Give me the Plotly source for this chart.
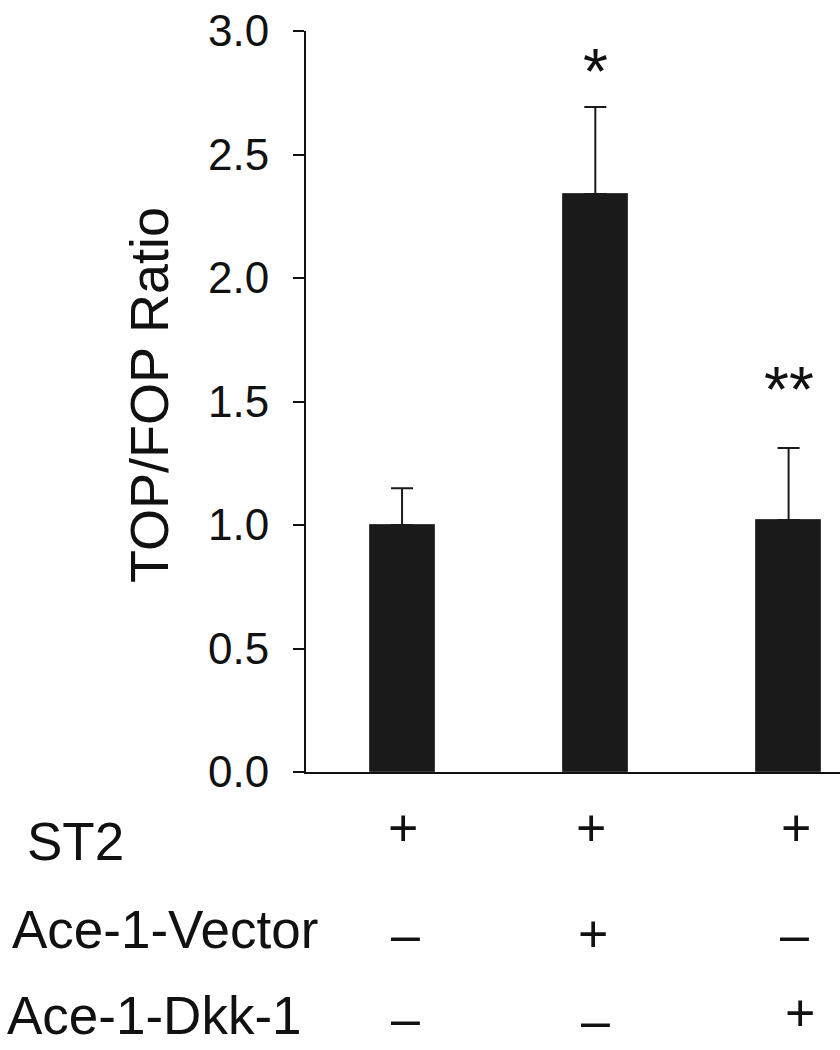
import plotly.graph_objects as go

# ---- data ----
groups = ["G1", "G2", "G3"]
ratio_mean = [1.00, 2.34, 1.02]
ratio_err = [0.149, 0.352, 0.292]
sig_labels = ["", "*", "**"]
sig_shift = [0, 43, 66]  # px above error-bar top

row_names = ["ST2", "Ace-1-Vector", "Ace-1-Dkk-1"]
st2 = ["+", "+", "+"]
ace_vector = ["–", "+", "–"]
ace_dkk = ["–", "–", "+"]

y_ticks = [0.0, 0.5, 1.0, 1.5, 2.0, 2.5, 3.0]
y_tick_text = ["0.0", "0.5", "1.0", "1.5", "2.0", "2.5", "3.0"]

# ---- layout helpers ----
W, H = 840, 1050
L, R, T, B = 306, 0, 31, 278
plot_h = H - T - B
FONT = "Liberation Sans, Arial, sans-serif"


def py(px):
    """pixel y (from top) -> paper y"""
    return (H - B - px) / plot_h


def px_x(px):
    return (px - L) / (W - L - R)


fig = go.Figure()
fig.add_trace(go.Bar(
    x=groups, y=ratio_mean, width=0.336,
    marker=dict(color="#1a1a1a", line=dict(color="#3a3a3a", width=1)),
    error_y=dict(type="data", array=ratio_err, arrayminus=[0] * 3, symmetric=False,
                 color="#1a1a1a", thickness=2, width=11),
    showlegend=False, hoverinfo="skip",
))

ann = []
# significance stars
for g, m, e, s, sh in zip(groups, ratio_mean, ratio_err, sig_labels, sig_shift):
    if s:
        ann.append(dict(x=g, y=m + e, xref="x", yref="y", text=s, showarrow=False,
                        yanchor="middle", yshift=sh - 8,
                        font=dict(family=FONT, size=64, color="#111")))

# condition table
rows = [st2, ace_vector, ace_dkk]
row_label_x = [25, 10, 5]
row_label_y = [841, 929, 1015]
sym_y = [[828, 828, 828], [934, 934, 934], [1018, 1020, 1013]]
sym_xshift = [[1, -4, 7], [3, -2, 6], [3, 0, 11]]
for i, (name, vals) in enumerate(zip(row_names, rows)):
    ann.append(dict(x=px_x(row_label_x[i]), y=py(row_label_y[i]), xref="paper", yref="paper",
                    text=name, showarrow=False, xanchor="left", yanchor="middle",
                    font=dict(family=FONT, size=53, color="#111")))
    for j, (g, v) in enumerate(zip(groups, vals)):
        ann.append(dict(x=g, y=py(sym_y[i][j]), xref="x", yref="paper", text=v,
                        showarrow=False, xanchor="center", yanchor="middle",
                        xshift=sym_xshift[i][j],
                        font=dict(family=FONT, size=52, color="#111")))

# y-axis title
ann.append(dict(x=px_x(149), y=py(395), xref="paper", yref="paper", text="TOP/FOP Ratio",
                textangle=-90, showarrow=False, xanchor="center", yanchor="middle",
                font=dict(family=FONT, size=54, color="#111")))

fig.update_layout(
    width=W, height=H,
    margin=dict(l=L, r=R, t=T, b=B, pad=0),
    paper_bgcolor="white", plot_bgcolor="white",
    annotations=ann,
    bargap=0,
)
fig.update_xaxes(type="category", range=[-0.497, 2.266], showline=True, linecolor="#111",
                 linewidth=2, showticklabels=False, ticks="", showgrid=False, zeroline=False)
fig.update_yaxes(range=[0, 3.0], tickvals=y_ticks, ticktext=y_tick_text, showline=True,
                 linecolor="#111", linewidth=2, ticks="outside", ticklen=11, tickwidth=2,
                 tickcolor="#111", showgrid=False, zeroline=False, ticklabelstandoff=15,
                 tickfont=dict(family=FONT, size=44, color="#111"))

fig.write_html("out.html", config={"displayModeBar": False},
               post_script="document.body.style.margin='0';")
